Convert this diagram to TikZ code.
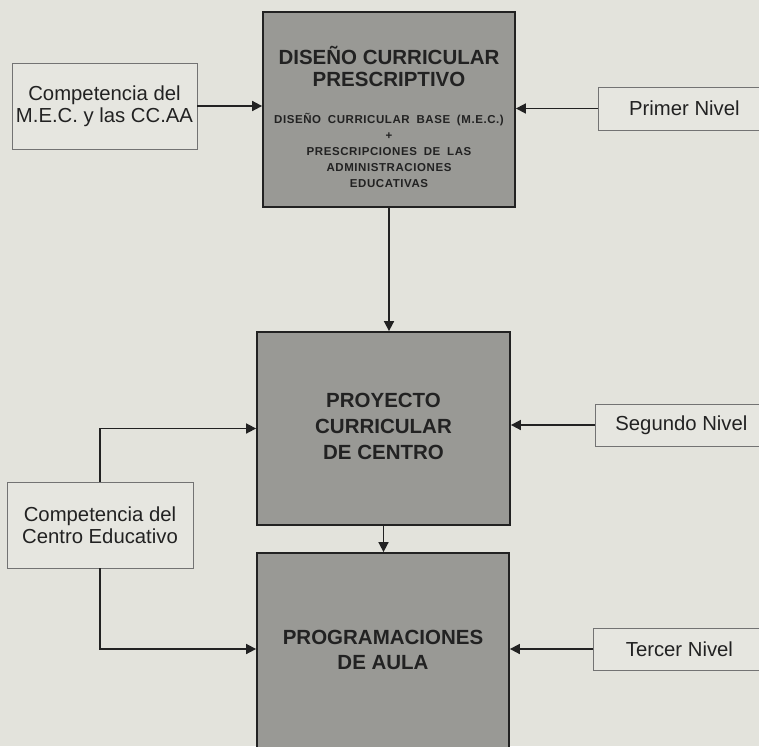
\documentclass[tikz,border=0pt]{standalone}
\usepackage{fontspec}
\setmainfont{Liberation Sans}
\newfontfamily\smallfont[LetterSpace=5,WordSpace=1.8]{Liberation Sans}
\usetikzlibrary{arrows.meta}
\definecolor{bgpaper}{HTML}{E3E3DC}
\definecolor{boxgray}{HTML}{999995}
\definecolor{sidefill}{HTML}{E6E6E0}
\definecolor{ink}{HTML}{222222}
\tikzset{
  mainbox/.style={draw=ink, line width=1.8pt, fill=boxgray, inner sep=0pt},
  sidebox/.style={draw=black!55, line width=0.8pt, fill=sidefill, inner sep=0pt,
    align=center, text=ink, font=\fontsize{20.3}{22}\selectfont},
  bigtitle/.style={align=center, text=ink, inner sep=0pt,
    font=\bfseries\fontsize{20.5}{22}\selectfont},
  smalltext/.style={align=center, text=ink, inner sep=0pt,
    font=\smallfont\bfseries\fontsize{11.5}{16}\selectfont},
  arr/.style={draw=ink, line width=1.7pt, -{Triangle[length=10pt,width=10pt]}}
}
\begin{document}
\begin{tikzpicture}[x=1pt,y=-1pt]
\useasboundingbox (0,0) rectangle (759,746);
\fill[bgpaper] (0,0) rectangle (759,746);
\begin{scope}
\clip (0,0) rectangle (759,746);
% main boxes
\node[mainbox, minimum width=252pt, minimum height=195pt] (box1) at (389,109.5) {};
\node[mainbox, minimum width=253pt, minimum height=193pt] (box2) at (383.5,428.5) {};
\node[mainbox, minimum width=252pt, minimum height=207pt] (box3) at (383,656.5) {};
% texts in main boxes
\node[bigtitle] (t1) at (389,66) {DISEÑO CURRICULAR\\PRESCRIPTIVO};
\node[smalltext] (t1b) at (389,150.5) {DISEÑO CURRICULAR BASE (M.E.C.)\\+\\PRESCRIPCIONES DE LAS\\ADMINISTRACIONES\\EDUCATIVAS};
\node[bigtitle, font=\bfseries\fontsize{20.5}{26}\selectfont] (t2) at (383.5,426) {PROYECTO\\CURRICULAR\\DE CENTRO};
\node[bigtitle, font=\bfseries\fontsize{20.5}{25}\selectfont] (t3) at (383,649.5) {PROGRAMACIONES\\DE AULA};
% side boxes
\node[sidebox, minimum width=185pt, minimum height=86pt] (mec) at (104.5,106) {Competencia del\\M.E.C. y las CC.AA};
\node[sidebox, minimum width=186pt, minimum height=86pt] (centro) at (100,525) {Competencia del\\Centro Educativo};
\node[sidebox, anchor=west, minimum width=172pt, minimum height=43pt] (primer) at (598,108.5) {Primer Nivel};
\node[sidebox, anchor=west, minimum width=172pt, minimum height=42pt] (segundo) at (595,425) {Segundo Nivel};
\node[sidebox, anchor=west, minimum width=172pt, minimum height=42pt] (tercer) at (593,649) {Tercer Nivel};
% connectors
\draw[arr] (mec.east) -- (mec.east -| box1.west);
\draw[arr] (primer.west) -- (primer.west -| box1.east);
\draw[arr] (box1.south) -- (box1.south |- box2.north);
\draw[arr] (box2.south) -- (box2.south |- box3.north);
\draw[arr] (segundo.west) -- (segundo.west -| box2.east);
\draw[arr] (tercer.west) -- (tercer.west -| box3.east);
\draw[arr] (centro.north) |- (box2.west);
\draw[arr] (centro.south) |- (tercer.west -| box3.west);
\end{scope}
\end{tikzpicture}
\end{document}
